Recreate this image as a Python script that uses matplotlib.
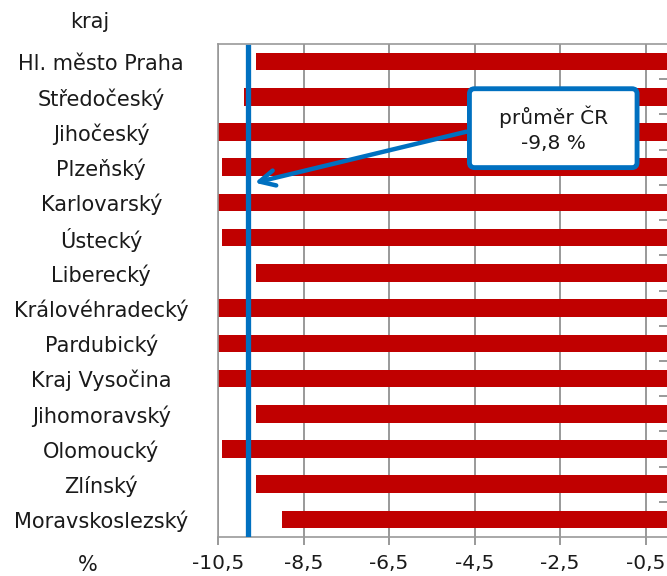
import matplotlib.pyplot as plt
from matplotlib.patches import FancyBboxPatch
from matplotlib.ticker import FuncFormatter

# data
regions = ["Hl. město Praha", "Středočeský", "Jihočeský", "Plzeňský", "Karlovarský",
           "Ústecký", "Liberecký", "Královéhradecký", "Pardubický", "Kraj Vysočina",
           "Jihomoravský", "Olomoucký", "Zlínský", "Moravskoslezský"]
values = [-9.6, -9.9, -10.6, -10.4, -10.7, -10.4, -9.6, -10.8, -10.6, -10.6, -9.6, -10.4, -9.6, -9.0]
cr_avg = -9.8
x_ticks = [-10.5, -8.5, -6.5, -4.5, -2.5, -0.5]

plt.rcParams['font.family'] = ['DejaVu Sans']
txt = '#1a1a1a'
fs = 15

fig = plt.figure(figsize=(6.67, 5.76), dpi=100)
ax = fig.add_axes([0.3268, 0.0677, 0.6732, 0.8559])

y = list(range(len(regions)))
ax.barh(y, values, height=0.5, color='#C00000', zorder=2)
ax.set_xlim(-10.5, 0)
ax.set_ylim(len(regions) - 0.5, -0.5)

# osy
ax.set_xticks(x_ticks)
ax.xaxis.set_major_formatter(FuncFormatter(lambda v, p: f'{v:.1f}'.replace('.', ',')))
ax.grid(axis='x', color='#888888', lw=1.2, zorder=0)
ax.tick_params(axis='x', length=6, width=1.2, color='#888888', pad=6, labelsize=fs - 0.5, labelcolor=txt)

ax.set_yticks(y)
ax.set_yticklabels(regions)
for lab in ax.get_yticklabels():
    lab.set_horizontalalignment('center')
ax.tick_params(axis='y', length=0, pad=84, labelsize=fs, labelcolor=txt)
ax.set_yticks([i + 0.5 for i in range(len(regions) - 1)], minor=True)
ax.tick_params(axis='y', which='minor', left=False, right=True, direction='in',
               length=6, width=1.2, color='#888888')

for s in ['left', 'top', 'bottom']:
    ax.spines[s].set_color('#999999')
    ax.spines[s].set_linewidth(1.2)
ax.spines['right'].set_visible(False)

# průměr ČR
ax.axvline(cr_avg, ymin=0, ymax=0.993, color='#0070C0', lw=3.8, zorder=3)
ax.annotate('', xy=(-9.64, 3.44), xytext=(-4.69, 1.99),
            arrowprops=dict(arrowstyle='->,head_length=1.1,head_width=0.55',
                            color='#0070C0', lw=3.2, shrinkA=0, shrinkB=0), zorder=4)
box = FancyBboxPatch((-4.62, 0.77), 3.92, 2.24, boxstyle='round,pad=0,rounding_size=0.12',
                     mutation_aspect=43 / 35.2, fc='white', ec='#0070C0', lw=3.5, zorder=5)
ax.add_patch(box)
ax.text(-2.66, 1.92, 'průměr ČR\n-9,8 %', ha='center', va='center', fontsize=fs - 0.5,
        color=txt, linespacing=1.45, zorder=6)

fig.text(90 / 667, 1 - 22 / 576, 'kraj', ha='center', va='center', fontsize=fs, color=txt)
fig.text(88 / 667, 1 - 565 / 576, '%', ha='center', va='center', fontsize=fs, color=txt)

fig.savefig('out.png', dpi=100)
